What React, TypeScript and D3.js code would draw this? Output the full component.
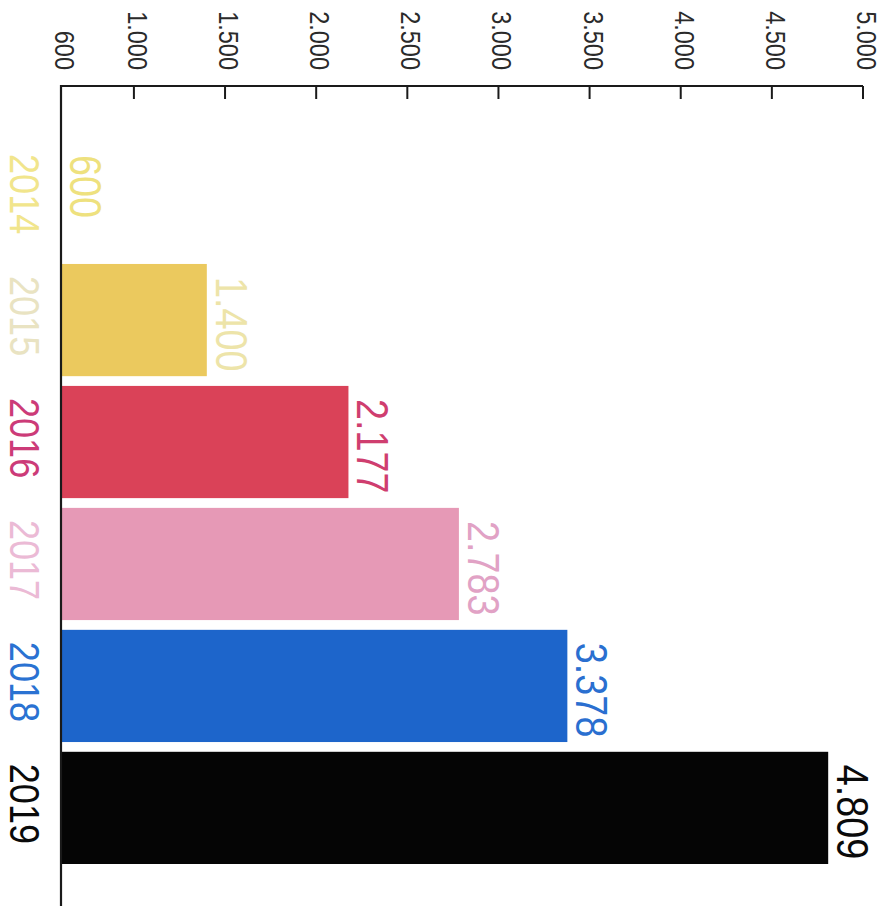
import React from "react";
import * as d3 from "d3";

const years = ["2014", "2015", "2016", "2017", "2018", "2019"];
const values = [600, 1400, 2177, 2783, 3378, 4809];
const tickValues = [600, 1000, 1500, 2000, 2500, 3000, 3500, 4000, 4500, 5000];
const barColors = ["#efd36a", "#ebc95e", "#da4258", "#e699b6", "#1d65cb", "#050505"];
const yearColors = ["#f1e58c", "#e9e3c2", "#cc3b78", "#ebbad5", "#2a72d2", "#0a0a0a"];
const valueColors = ["#eee17e", "#ede4a9", "#cf3e6f", "#e1a2c5", "#2a6fd0", "#0a0a0a"];

const W = 883;
const H = 906;
const FONT = "'Liberation Sans', Arial, sans-serif";
const SX = 0.84;

const locale = d3.formatLocale({ decimal: ",", thousands: ".", grouping: [3], currency: ["", "€"] });
const fmt = locale.format(",d");

export default function App() {
  const x = d3.scaleLinear().domain([600, 5000]).range([61, 863]);
  const y = d3.scaleBand<string>().domain(years).range([142, 864]).paddingInner(0.08).paddingOuter(0);
  const axisY = 86;

  return (
    <svg width={W} height={H} style={{ position: "absolute", left: 0, top: 0, background: "#fff" }}>
      <rect x={0} y={0} width={W} height={H} fill="#fff" />
      {/* bars */}
      {years.map((yr, i) => (
        <rect
          key={"b" + yr}
          x={x(600)}
          y={y(yr)}
          width={Math.max(0, x(values[i]) - x(600))}
          height={y.bandwidth()}
          fill={barColors[i]}
        />
      ))}
      {/* axis lines */}
      <line x1={x(600)} x2={x(5000)} y1={axisY} y2={axisY} stroke="#1a1a1a" strokeWidth={2.2} />
      <line x1={x(600)} x2={x(600)} y1={axisY - 1} y2={H} stroke="#1a1a1a" strokeWidth={2.2} />
      {tickValues.map((t) => (
        <line key={"t" + t} x1={x(t)} x2={x(t)} y1={axisY} y2={axisY + 13} stroke="#1a1a1a" strokeWidth={2} />
      ))}
      {tickValues.map((t) => (
        <text
          key={"tl" + t}
          transform={`translate(${x(t) + 4},${70}) rotate(90) scale(${SX},1)`}
          dy="0.36em"
          textAnchor="end"
          fontFamily={FONT}
          fontSize={28}
          fill="#2a2a2a"
        >
          {fmt(t)}
        </text>
      ))}
      {/* year labels */}
      {years.map((yr, i) => (
        <text
          key={"y" + yr}
          transform={`translate(${25},${(y(yr) as number) + 12}) rotate(90) scale(${SX},1)`}
          dy="0.36em"
          textAnchor="start"
          fontFamily={FONT}
          fontSize={43}
          fill={yearColors[i]}
        >
          {yr}
        </text>
      ))}
      {/* value labels */}
      {years.map((yr, i) => (
        <text
          key={"v" + yr}
          transform={`translate(${x(values[i]) + 25},${(y(yr) as number) + 13}) rotate(90) scale(${SX},1)`}
          dy="0.36em"
          textAnchor="start"
          fontFamily={FONT}
          fontSize={45}
          fill={valueColors[i]}
        >
          {fmt(values[i])}
        </text>
      ))}
    </svg>
  );
}
